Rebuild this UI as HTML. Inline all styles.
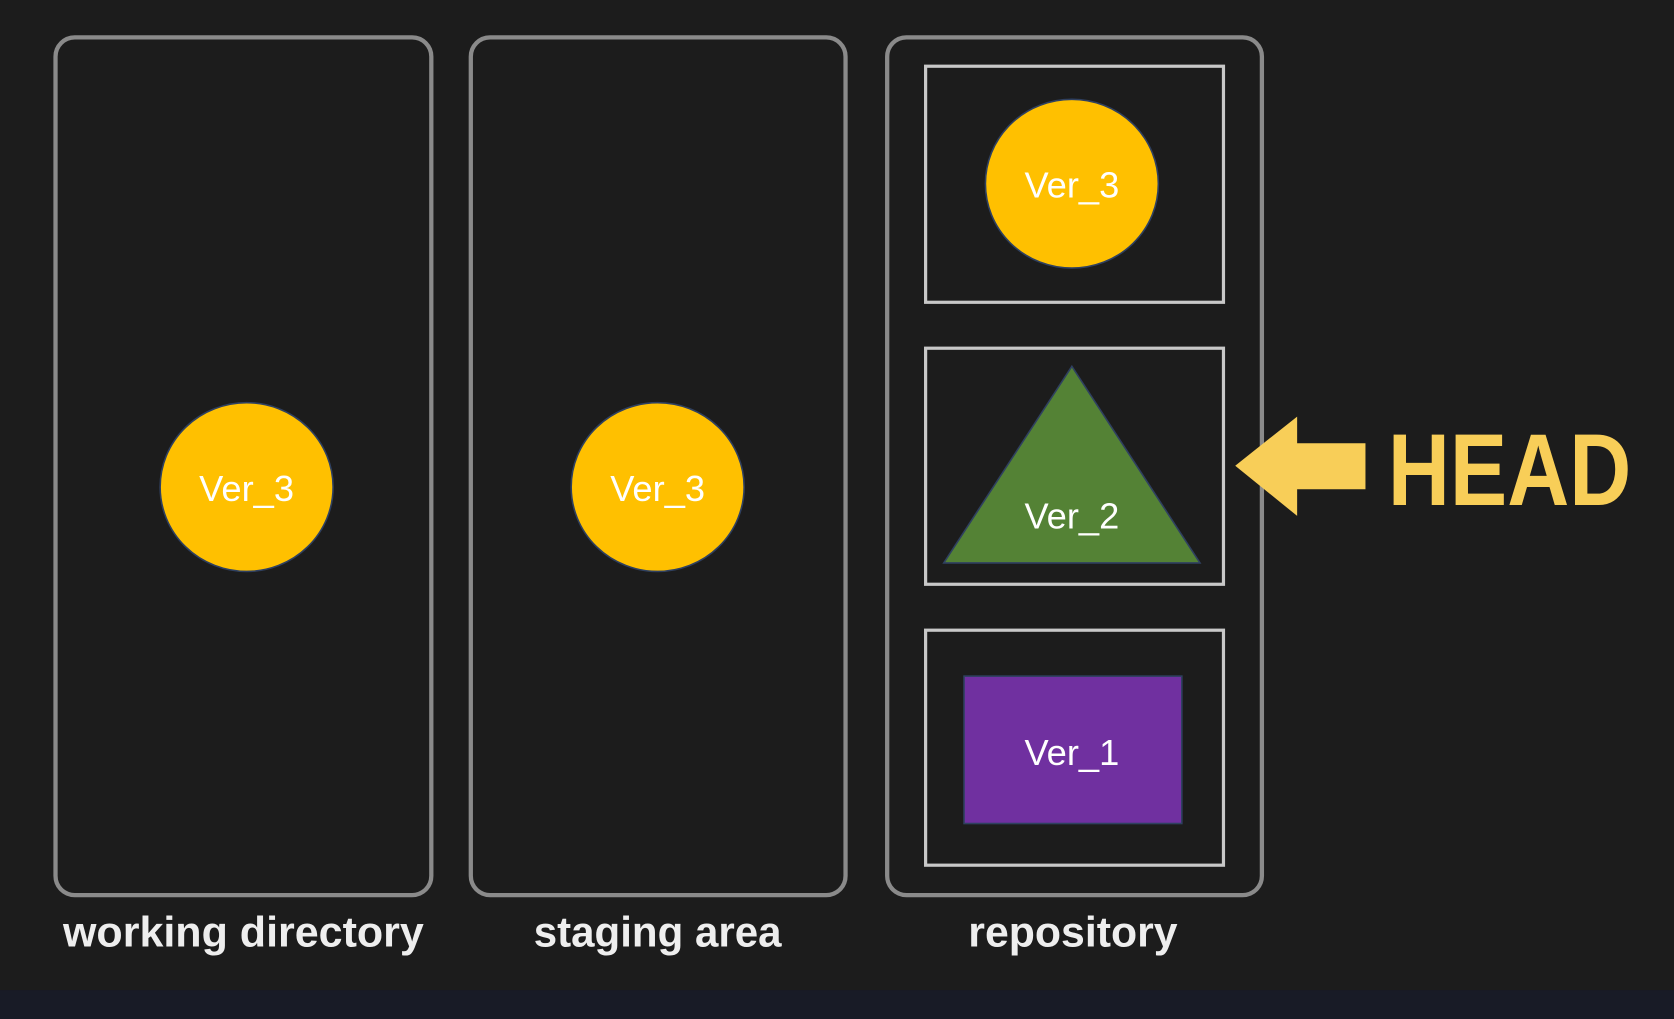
<!DOCTYPE html>
<html><head><meta charset="utf-8"><style>
html,body{margin:0;padding:0;background:#1c1c1c;}
svg{display:block;}
</style></head><body>
<svg width="1674" height="1019" viewBox="0 0 1568 954" preserveAspectRatio="none" xmlns="http://www.w3.org/2000/svg">
<rect x="0" y="0" width="1568" height="954" fill="#1c1c1c"/>
<rect x="0" y="927" width="1568" height="27" fill="#181b26"/>
<g fill="none" stroke="#8a8a8a" stroke-width="4">
<rect x="52" y="35" width="352" height="803" rx="18"/>
<rect x="441" y="35" width="351" height="803" rx="18"/>
<rect x="831" y="35" width="351" height="803" rx="18"/>
</g>
<g fill="none" stroke="#c8c8c8" stroke-width="3">
<rect x="867" y="62" width="279" height="221"/>
<rect x="867" y="326" width="279" height="221"/>
<rect x="867" y="590" width="279" height="220"/>
</g>
<g fill="#ffc000" stroke="#2f4060" stroke-width="1.5">
<ellipse cx="231" cy="456" rx="81" ry="79"/>
<ellipse cx="616" cy="456" rx="81" ry="79"/>
<ellipse cx="1004" cy="172" rx="81" ry="79"/>
</g>
<polygon points="1004,343 884,527 1124,527" fill="#548235" stroke="#2f4060" stroke-width="1.5"/>
<rect x="903" y="633" width="204" height="138" fill="#7030a0" stroke="#2f4060" stroke-width="1.5"/>
<g font-family="'Liberation Sans',sans-serif" font-size="34" fill="#ffffff" text-anchor="middle">
<text x="231" y="469">Ver_3</text>
<text x="616" y="469">Ver_3</text>
<text x="1004" y="185">Ver_3</text>
<text x="1004" y="495">Ver_2</text>
<text x="1004" y="716">Ver_1</text>
</g>
<polygon points="1157,436 1215,390 1215,415 1279,415 1279,458 1215,458 1215,483" fill="#f8ce58"/>
<text x="1300" y="473" font-family="'Liberation Sans',sans-serif" font-weight="bold" font-size="96" fill="#f8ce58" textLength="228" lengthAdjust="spacingAndGlyphs">HEAD</text>
<g font-family="'Liberation Sans',sans-serif" font-size="40" font-weight="bold" fill="#eeeeee" text-anchor="middle">
<text x="228" y="886" textLength="338" lengthAdjust="spacingAndGlyphs">working directory</text>
<text x="616" y="886" textLength="232" lengthAdjust="spacingAndGlyphs">staging area</text>
<text x="1005" y="886" textLength="196" lengthAdjust="spacingAndGlyphs">repository</text>
</g>
</svg>
</body></html>
